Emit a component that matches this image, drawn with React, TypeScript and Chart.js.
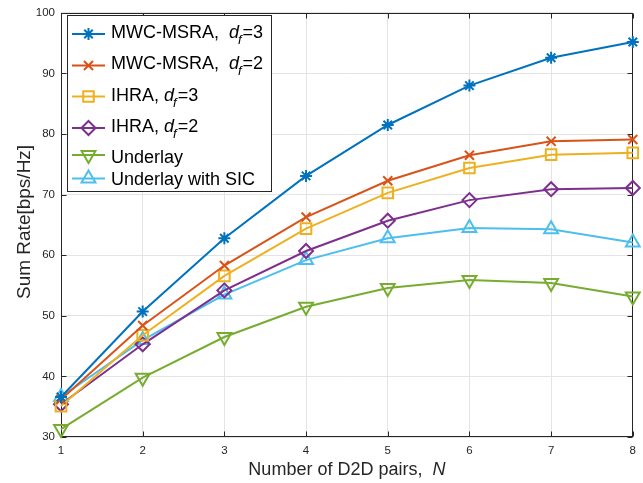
import React, { useEffect, useRef } from 'react';
import { Chart, registerables } from 'chart.js';

Chart.register(...registerables);

// ---- data ----
const nPairs = [1, 2, 3, 4, 5, 6, 7, 8];
const mwcDf3 = [36.6, 50.7, 62.8, 73.1, 81.5, 88.0, 92.6, 95.2];
const mwcDf2 = [36.2, 48.4, 58.3, 66.3, 72.3, 76.5, 78.8, 79.1];
const ihraDf3 = [35.1, 46.8, 56.6, 64.4, 70.3, 74.4, 76.6, 76.9];
const ihraDf2 = [35.4, 45.3, 54.2, 60.7, 65.7, 69.1, 70.9, 71.1];
const underlay = [31.3, 39.8, 46.5, 51.5, 54.6, 55.9, 55.4, 53.2];
const underlaySic = [36.6, 46.0, 53.5, 59.2, 62.8, 64.5, 64.3, 62.1];
const yTicks = [30, 40, 50, 60, 70, 80, 90, 100];

const xTitle = 'Number of D2D pairs,  ';
const xTitleVar = 'N';
const yTitle = 'Sum Rate[bps/Hz]';

type Series = {
  pre: string;
  sub: boolean;
  post: string;
  values: number[];
  color: string;
  style: string;
  rotation: number;
  radius: number;
};

const series: Series[] = [
  { pre: 'MWC-MSRA,  ', sub: true, post: '=3', values: mwcDf3, color: '#0072BD', style: 'star', rotation: 0, radius: 6 },
  { pre: 'MWC-MSRA,  ', sub: true, post: '=2', values: mwcDf2, color: '#D95319', style: 'crossRot', rotation: 0, radius: 6.4 },
  { pre: 'IHRA, ', sub: true, post: '=3', values: ihraDf3, color: '#EDB120', style: 'rect', rotation: 0, radius: 7.5 },
  { pre: 'IHRA, ', sub: true, post: '=2', values: ihraDf2, color: '#7E2F8E', style: 'rectRot', rotation: 0, radius: 7 },
  { pre: 'Underlay', sub: false, post: '', values: underlay, color: '#77AC30', style: 'triangle', rotation: 180, radius: 8 },
  { pre: 'Underlay with SIC', sub: false, post: '', values: underlaySic, color: '#4DBEEE', style: 'triangle', rotation: 0, radius: 8 },
];

const FONT = '"Liberation Sans", Arial, Helvetica, sans-serif';
const AXIS_COLOR = '#262626';

function drawMarker(ctx: CanvasRenderingContext2D, style: string, x: number, y: number, r: number, rotDeg: number) {
  let rad = (rotDeg * Math.PI) / 180;
  ctx.beginPath();
  if (style === 'rect') {
    const s = Math.SQRT1_2 * r;
    ctx.rect(x - s, y - s, 2 * s, 2 * s);
  } else if (style === 'rectRot') {
    ctx.moveTo(x - r, y);
    ctx.lineTo(x, y - r);
    ctx.lineTo(x + r, y);
    ctx.lineTo(x, y + r);
    ctx.closePath();
  } else if (style === 'triangle') {
    for (let i = 0; i < 3; i++) {
      const px = x + Math.sin(rad) * r;
      const py = y - Math.cos(rad) * r;
      if (i === 0) ctx.moveTo(px, py);
      else ctx.lineTo(px, py);
      rad += (2 * Math.PI) / 3;
    }
    ctx.closePath();
  } else if (style === 'crossRot' || style === 'star') {
    const o = Math.cos(Math.PI / 4) * r;
    ctx.moveTo(x - o, y - o);
    ctx.lineTo(x + o, y + o);
    ctx.moveTo(x - o, y + o);
    ctx.lineTo(x + o, y - o);
    if (style === 'star') {
      ctx.moveTo(x - r, y);
      ctx.lineTo(x + r, y);
      ctx.moveTo(x, y - r);
      ctx.lineTo(x, y + r);
    }
  }
  ctx.stroke();
}

const decorPlugin = {
  id: 'matlabDecor',
  beforeDatasetsDraw(chart: any) {
    const { ctx, chartArea: a, scales } = chart;
    const L = Math.round(a.left) + 0.5;
    const R = Math.round(a.right) - 0.5;
    const T = Math.round(a.top) + 0.5;
    const B = Math.round(a.bottom) - 0.5;
    ctx.save();
    ctx.strokeStyle = AXIS_COLOR;
    ctx.lineWidth = 1;
    const tl = 5;
    ctx.beginPath();
    for (const v of nPairs) {
      const px = Math.round(scales.x.getPixelForValue(v)) + 0.5;
      ctx.moveTo(px, B);
      ctx.lineTo(px, B - tl);
      ctx.moveTo(px, T);
      ctx.lineTo(px, T + tl);
    }
    for (const v of yTicks) {
      const py = Math.round(scales.y.getPixelForValue(v)) + 0.5;
      ctx.moveTo(L, py);
      ctx.lineTo(L + tl, py);
      ctx.moveTo(R, py);
      ctx.lineTo(R - tl, py);
    }
    ctx.stroke();
    ctx.strokeRect(L, T, R - L, B - T);
    ctx.restore();
  },
  afterDraw(chart: any) {
    const { ctx, chartArea: a } = chart;
    ctx.save();
    // axis titles
    ctx.fillStyle = AXIS_COLOR;
    ctx.font = `18px ${FONT}`;
    ctx.textBaseline = 'alphabetic';
    const w1 = ctx.measureText(xTitle).width;
    ctx.font = `italic 18px ${FONT}`;
    const w2 = ctx.measureText(xTitleVar).width;
    const cx = (a.left + a.right) / 2;
    const x0 = cx - (w1 + w2) / 2;
    ctx.font = `18px ${FONT}`;
    ctx.textAlign = 'left';
    ctx.fillText(xTitle, x0, 475);
    ctx.font = `italic 18px ${FONT}`;
    ctx.fillText(xTitleVar, x0 + w1, 475);

    ctx.save();
    ctx.translate(30, (a.top + a.bottom) / 2 - 3);
    ctx.rotate(-Math.PI / 2);
    ctx.font = `19px ${FONT}`;
    ctx.textAlign = 'center';
    ctx.fillText(yTitle, 0, 0);
    ctx.restore();

    // legend
    const bx = 67.5, by = 15.5, bw = 204, bh = 176;
    ctx.fillStyle = '#ffffff';
    ctx.fillRect(bx, by, bw, bh);
    ctx.strokeStyle = AXIS_COLOR;
    ctx.lineWidth = 1;
    ctx.strokeRect(bx, by, bw, bh);

    const lineYs = [34, 65.5, 96.5, 128, 155, 178.5];
    const baseYs = [37.5, 68.5, 100.5, 131.5, 162.5, 184.5];
    series.forEach((s, i) => {
      const ly = lineYs[i];
      ctx.strokeStyle = s.color;
      ctx.lineWidth = 2;
      ctx.beginPath();
      ctx.moveTo(72, ly);
      ctx.lineTo(105, ly);
      ctx.stroke();
      drawMarker(ctx, s.style, 88.5, ly, s.radius, s.rotation);

      ctx.fillStyle = '#000000';
      ctx.textAlign = 'left';
      let tx = 111;
      const by2 = baseYs[i];
      ctx.font = `18px ${FONT}`;
      ctx.fillText(s.pre, tx, by2);
      tx += ctx.measureText(s.pre).width;
      if (s.sub) {
        ctx.font = `italic 18px ${FONT}`;
        ctx.fillText('d', tx, by2);
        tx += ctx.measureText('d').width;
        ctx.font = `italic 13px ${FONT}`;
        ctx.fillText('f', tx - 1, by2 + 6);
        tx += ctx.measureText('f').width;
        ctx.font = `18px ${FONT}`;
        ctx.fillText(s.post, tx, by2);
      }
    });
    ctx.restore();
  },
};

export default function App() {
  const canvasRef = useRef<HTMLCanvasElement | null>(null);

  useEffect(() => {
    document.body.style.margin = '0';
    const canvas = canvasRef.current;
    if (!canvas) return;
    const datasets = series.map((s) => ({
      label: s.pre + (s.sub ? 'd_f' + s.post : ''),
      data: nPairs.map((n, i) => ({ x: n, y: s.values[i] })),
      borderColor: s.color,
      backgroundColor: 'rgba(0,0,0,0)',
      borderWidth: 2,
      pointStyle: s.style as any,
      pointRotation: s.rotation,
      pointRadius: s.radius,
      pointBorderWidth: 2,
      pointBorderColor: s.color,
      pointBackgroundColor: 'rgba(0,0,0,0)',
      pointHoverRadius: s.radius,
      clip: false as any,
      tension: 0,
    }));
    const chart = new Chart(canvas, {
      type: 'line',
      data: { datasets },
      options: {
        animation: false,
        responsive: false,
        events: [],
        layout: { padding: { top: 8, right: 10, left: 0, bottom: 0 } },
        plugins: { legend: { display: false }, tooltip: { enabled: false } },
        scales: {
          x: {
            type: 'linear',
            min: 1,
            max: 8,
            afterFit: (sc: any) => { sc.height = 46; },
            afterBuildTicks: (sc: any) => { sc.ticks = nPairs.map((v) => ({ value: v })); },
            ticks: { color: AXIS_COLOR, font: { family: FONT, size: 11.5 }, padding: 7, maxRotation: 0 },
            grid: { color: '#e4e4e4', lineWidth: 1, drawTicks: false },
            border: { display: false },
          },
          y: {
            type: 'linear',
            min: 30,
            max: 100,
            afterFit: (sc: any) => { sc.width = 61; },
            afterBuildTicks: (sc: any) => { sc.ticks = yTicks.map((v) => ({ value: v })); },
            ticks: { color: AXIS_COLOR, font: { family: FONT, size: 11.5 }, padding: 6 },
            grid: { color: '#e4e4e4', lineWidth: 1, drawTicks: false },
            border: { display: false },
          },
        },
      },
      plugins: [decorPlugin],
    });
    return () => chart.destroy();
  }, []);

  return (
    <div style={{ width: 643, height: 483, background: '#fff' }}>
      <canvas ref={canvasRef} width={643} height={483} style={{ display: 'block' }} />
    </div>
  );
}
